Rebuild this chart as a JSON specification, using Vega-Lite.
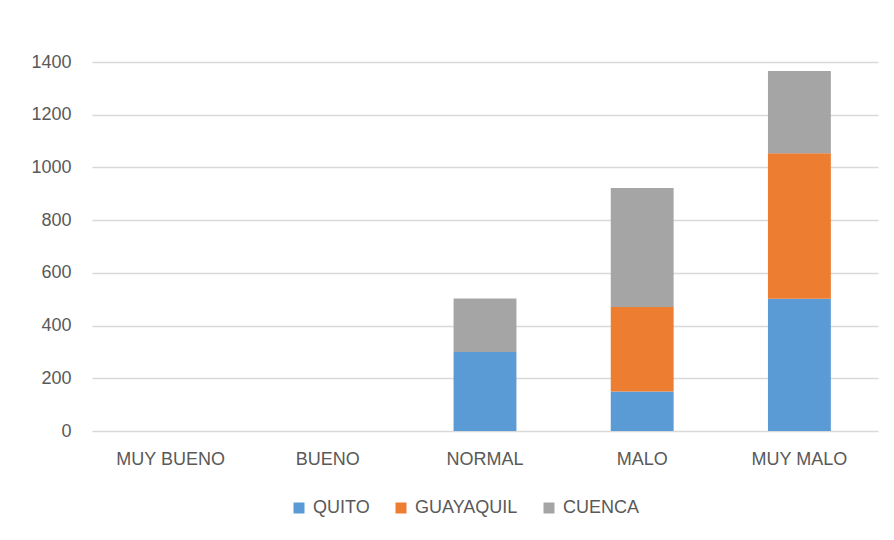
{
  "$schema": "https://vega.github.io/schema/vega-lite/v6.json",
  "width": 786,
  "height": 369,
  "autosize": "none",
  "padding": {"left": 92, "top": 62, "right": 16, "bottom": 109},
  "background": "white",
  "config": {
    "font": "Liberation Sans",
    "view": {"stroke": null},
    "axis": {"labelColor": "#595959", "labelFontSize": 18, "titleColor": "#595959"},
    "legend": {"labelColor": "#595959", "labelFontSize": 18}
  },
  "data": {
    "values": [
      {"categoria": "MUY BUENO", "serie": "QUITO", "valor": 0},
      {"categoria": "MUY BUENO", "serie": "GUAYAQUIL", "valor": 0},
      {"categoria": "MUY BUENO", "serie": "CUENCA", "valor": 0},
      {"categoria": "BUENO", "serie": "QUITO", "valor": 0},
      {"categoria": "BUENO", "serie": "GUAYAQUIL", "valor": 0},
      {"categoria": "BUENO", "serie": "CUENCA", "valor": 0},
      {"categoria": "NORMAL", "serie": "QUITO", "valor": 300},
      {"categoria": "NORMAL", "serie": "GUAYAQUIL", "valor": 0},
      {"categoria": "NORMAL", "serie": "CUENCA", "valor": 203},
      {"categoria": "MALO", "serie": "QUITO", "valor": 150},
      {"categoria": "MALO", "serie": "GUAYAQUIL", "valor": 320},
      {"categoria": "MALO", "serie": "CUENCA", "valor": 452},
      {"categoria": "MUY MALO", "serie": "QUITO", "valor": 502},
      {"categoria": "MUY MALO", "serie": "GUAYAQUIL", "valor": 552},
      {"categoria": "MUY MALO", "serie": "CUENCA", "valor": 312}
    ]
  },
  "mark": {"type": "bar"},
  "encoding": {
    "x": {
      "field": "categoria",
      "type": "nominal",
      "sort": ["MUY BUENO", "BUENO", "NORMAL", "MALO", "MUY MALO"],
      "title": null,
      "scale": {"paddingInner": 0.6, "paddingOuter": 0.3},
      "axis": {"labelAngle": 0, "domain": false, "ticks": false, "labelPadding": 19}
    },
    "y": {
      "field": "valor",
      "type": "quantitative",
      "stack": "zero",
      "title": null,
      "scale": {"domain": [0, 1400], "nice": false},
      "axis": {
        "values": [0, 200, 400, 600, 800, 1000, 1200, 1400],
        "format": "d",
        "domain": false,
        "ticks": false,
        "labelPadding": 21,
        "gridColor": "#D9D9D9",
        "gridWidth": 1.3
      }
    },
    "color": {
      "field": "serie",
      "type": "nominal",
      "scale": {"domain": ["QUITO", "GUAYAQUIL", "CUENCA"], "range": ["#5B9BD5", "#ED7D31", "#A5A5A5"]},
      "legend": {
        "title": null,
        "orient": "none",
        "direction": "horizontal",
        "legendX": 198,
        "legendY": 437,
        "symbolType": "square",
        "symbolSize": 121,
        "symbolStrokeWidth": 0,
        "labelOffset": 5,
        "columnPadding": 22
      }
    },
    "order": {"field": "serie", "sort": "descending"}
  }
}
